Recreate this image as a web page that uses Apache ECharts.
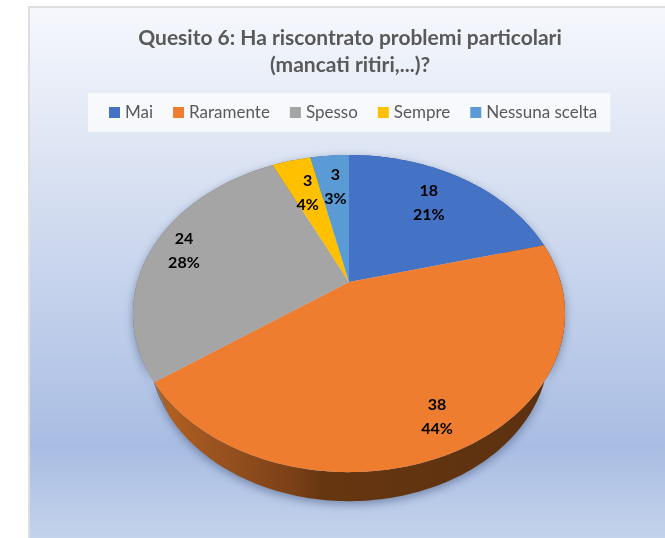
<!DOCTYPE html>
<html>
<head>
<meta charset="utf-8">
<title>Quesito 6</title>
<script src="https://cdn.jsdelivr.net/npm/echarts@6/dist/echarts.min.js"></script>
<style>
  html, body { margin: 0; padding: 0; background: #fff; }
  #chart { width: 665px; height: 538px; }
</style>
</head>
<body>
<div id="chart"></div>
<script>
var categories = ['Mai', 'Raramente', 'Spesso', 'Sempre', 'Nessuna scelta'];
var values = [18, 38, 24, 3, 3];
var percentLabels = ['21%', '44%', '28%', '4%', '3%'];
var colors = ['#4472c4', '#ef7d2f', '#a5a5a5', '#ffc000', '#5b9bd5'];
var wallColors = ['#2f4f88', '#5f3311', '#707070', '#8a6800', '#3a6a96'];

// how far out along its slice each label sits, and a small sideways nudge
var labelRadius = [0.73, 0.833, 0.84, 0.70, 0.716];
var labelShiftX = [-5, 0, 0, 1, 1];

// the pie is tilted in perspective, so the apex is not the middle of the ellipse
var cx = 349;
var topFace = { cy: 282, a: 211.7, b: 152.3 };
var bottomFace = { cy: 319, a: 196, b: 145.9 };
var tilt = 0.199;

var total = 0;
var starts = [];
for (var i = 0; i < values.length; i++) {
  starts[i] = total;
  total += values[i];
}

function project(face, deg, r) {
  var t = deg * Math.PI / 180;
  var u = Math.sin(t) * r;
  var v = Math.cos(t) * r;
  var w = 1 + tilt * v;
  return [cx + face.a * u / w, face.cy - face.b * v / w];
}

function sliceAngles(i) {
  var from = starts[i] / total * 360;
  var to = (starts[i] + values[i]) / total * 360;
  var out = [];
  for (var d = from; d < to; d += 1) out.push(d);
  out.push(to);
  return out;
}

var wallFills = wallColors.slice();
wallFills[1] = {
  type: 'linear', x: 150, y: 0, x2: 560, y2: 0, global: true,
  colorStops: [
    { offset: 0, color: '#b8631f' },
    { offset: 0.15, color: '#9c5420' },
    { offset: 0.35, color: '#7a4017' },
    { offset: 0.42, color: '#663610' },
    { offset: 1, color: '#5c3110' }
  ]
};

function renderWall(params) {
  var i = params.dataIndex;
  var angles = sliceAngles(i);
  var pts = [];
  for (var k = 0; k < angles.length; k++) pts.push(project(topFace, angles[k], 1));
  for (var j = angles.length - 1; j >= 0; j--) pts.push(project(bottomFace, angles[j], 1));
  return {
    type: 'polygon',
    shape: { points: pts },
    style: {
      fill: wallFills[i],
      shadowBlur: 10,
      shadowColor: 'rgba(50,70,110,0.5)',
      shadowOffsetY: 3
    }
  };
}

function makeRenderSlice(i) {
  return function () {
    var angles = sliceAngles(i);
    var pts = [project(topFace, 0, 0)];
    for (var k = 0; k < angles.length; k++) pts.push(project(topFace, angles[k], 1));
    var mid = (starts[i] + values[i] / 2) / total * 360;
    var pos = project(topFace, mid, labelRadius[i]);
    return {
      type: 'group',
      children: [
        { type: 'polygon', shape: { points: pts }, style: { fill: colors[i] } },
        {
          type: 'text',
          z2: 10,
          style: {
            x: pos[0] + labelShiftX[i],
            y: pos[1],
            text: values[i] + '\n' + percentLabels[i],
            align: 'center',
            verticalAlign: 'middle',
            fill: '#000',
            font: 'bold 16px Lato',
            lineHeight: 24
          }
        }
      ]
    };
  };
}

var series = [{
  type: 'custom',
  coordinateSystem: 'none',
  silent: true,
  z: 1,
  data: values,
  renderItem: renderWall
}];
for (var n = 0; n < categories.length; n++) {
  series.push({
    type: 'custom',
    name: categories[n],
    coordinateSystem: 'none',
    silent: true,
    z: 2,
    itemStyle: { color: colors[n] },
    data: [values[n]],
    renderItem: makeRenderSlice(n)
  });
}

var myChart = echarts.init(document.getElementById('chart'));
var option = {
  animation: false,
  backgroundColor: '#fff',
  title: {
    text: 'Quesito 6: Ha riscontrato problemi particolari\n(mancati ritiri,...)?',
    left: 345,
    top: 20,
    textAlign: 'center',
    textStyle: {
      color: '#595959',
      fontFamily: 'Lato',
      fontWeight: 'bold',
      fontSize: 21,
      lineHeight: 27
    }
  },
  legend: {
    data: categories,
    left: 88,
    top: 93,
    padding: [11, 13, 11, 21],
    itemGap: 20,
    itemWidth: 11,
    itemHeight: 11,
    icon: 'rect',
    backgroundColor: 'rgba(255,255,255,0.7)',
    selectedMode: false,
    textStyle: { color: '#595959', fontFamily: 'Lato', fontSize: 17 }
  },
  graphic: [{
    type: 'rect',
    z: -1,
    shape: { x: 29, y: 7, width: 640, height: 535 },
    style: {
      stroke: '#dedede',
      lineWidth: 2,
      fill: {
        type: 'linear', x: 0, y: 0, x2: 0, y2: 1,
        colorStops: [
          { offset: 0, color: '#f6f8fd' },
          { offset: 0.25, color: '#dfe6f4' },
          { offset: 0.82, color: '#a9bde3' },
          { offset: 1, color: '#c5d4ec' }
        ]
      }
    }
  }],
  series: series
};
option && myChart.setOption(option);
</script>
</body>
</html>
